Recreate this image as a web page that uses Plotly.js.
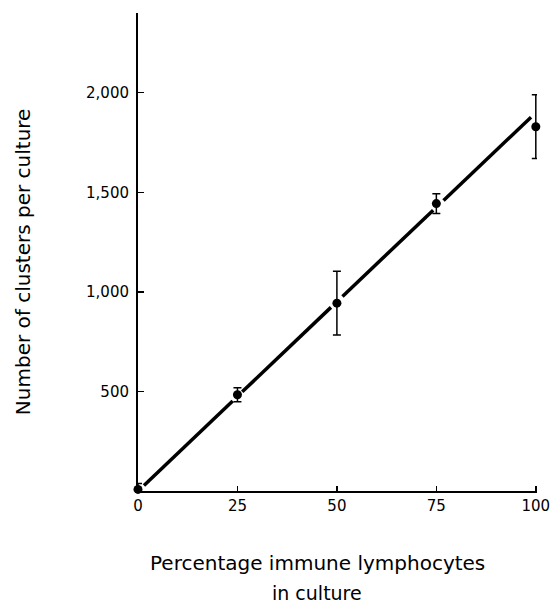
<!DOCTYPE html>
<html>
<head>
<meta charset="utf-8">
<script src="https://cdn.plot.ly/plotly-3.0.1.min.js"></script>
<style>
  html, body { margin: 0; padding: 0; background: #fff; }
  #chart { width: 550px; height: 607px; }
</style>
</head>
<body>
<div id="chart"></div>
<script>
// Data
var pct = [0, 25, 50, 75, 100];
var clusters = [8, 483, 943, 1443, 1829];
var errs = [30, 35, 160, 50, 160];

// Fitted line (broken around the data points as in the original)
var fitX = [1.5, 23.8, null, 26.2, 48.5, null, 51.4, 74.2, null, 76.8, 98.8];
var fitY = [28, 452, null, 498, 922, null, 977, 1410, null, 1459, 1877];

var xTicks = [0, 25, 50, 75, 100];
var xTickText = ["0", "25", "50", "75", "100"];
var yTicks = [500, 1000, 1500, 2000];
var yTickText = ["500", "1,000", "1,500", "2,000"];

var xTitle1 = "Percentage immune lymphocytes";
var xTitle2 = "in culture";
var yTitle = "Number of clusters per culture";

var FONT = "'DejaVu Sans', sans-serif";

var traces = [
  {
    x: fitX, y: fitY, type: "scatter", mode: "lines",
    connectgaps: false,
    line: { color: "#000", width: 3.5 },
    hoverinfo: "skip", cliponaxis: false
  },
  {
    x: pct, y: clusters, type: "scatter", mode: "markers",
    marker: { color: "#000", size: 9, symbol: "circle" },
    error_y: { type: "data", array: errs, visible: true, color: "#000", thickness: 1.5, width: 4 },
    cliponaxis: false
  }
];

var layout = {
  width: 550, height: 607,
  margin: { l: 138, r: 13, t: 13, b: 116 },
  paper_bgcolor: "#fff", plot_bgcolor: "#fff",
  showlegend: false,
  font: { family: FONT, color: "#000", size: 14 },
  xaxis: {
    range: [0, 100.3],
    tickvals: xTicks, ticktext: xTickText,
    ticks: "inside", ticklen: 5, tickwidth: 1.5, tickcolor: "#000",
    showline: true, linecolor: "#000", linewidth: 2,
    showgrid: false, zeroline: false,
    ticklabeloverflow: "allow",
    tickfont: { family: FONT, size: 15, color: "#000" }
  },
  yaxis: {
    range: [0, 2400],
    tickvals: yTicks, ticktext: yTickText,
    ticks: "inside", ticklen: 6, tickwidth: 1.5, tickcolor: "#000",
    showline: true, linecolor: "#000", linewidth: 2,
    showgrid: false, zeroline: false,
    ticklabelstandoff: 4,
    tickfont: { family: FONT, size: 15, color: "#000" }
  },
  annotations: [
    { text: yTitle, xref: "paper", yref: "paper", x: -0.288, y: 0.479, xanchor: "center", yanchor: "middle",
      textangle: -90, showarrow: false, font: { family: FONT, size: 20, color: "#000" } },
    { text: xTitle1, xref: "paper", yref: "paper", x: 0.449, y: -0.151, xanchor: "center", yanchor: "middle",
      showarrow: false, font: { family: FONT, size: 20, color: "#000" } },
    { text: xTitle2, xref: "paper", yref: "paper", x: 0.449, y: -0.214, xanchor: "center", yanchor: "middle",
      showarrow: false, font: { family: FONT, size: 19, color: "#000" } }
  ]
};

Plotly.newPlot("chart", traces, layout, { displayModeBar: false, staticPlot: true });
</script>
</body>
</html>
